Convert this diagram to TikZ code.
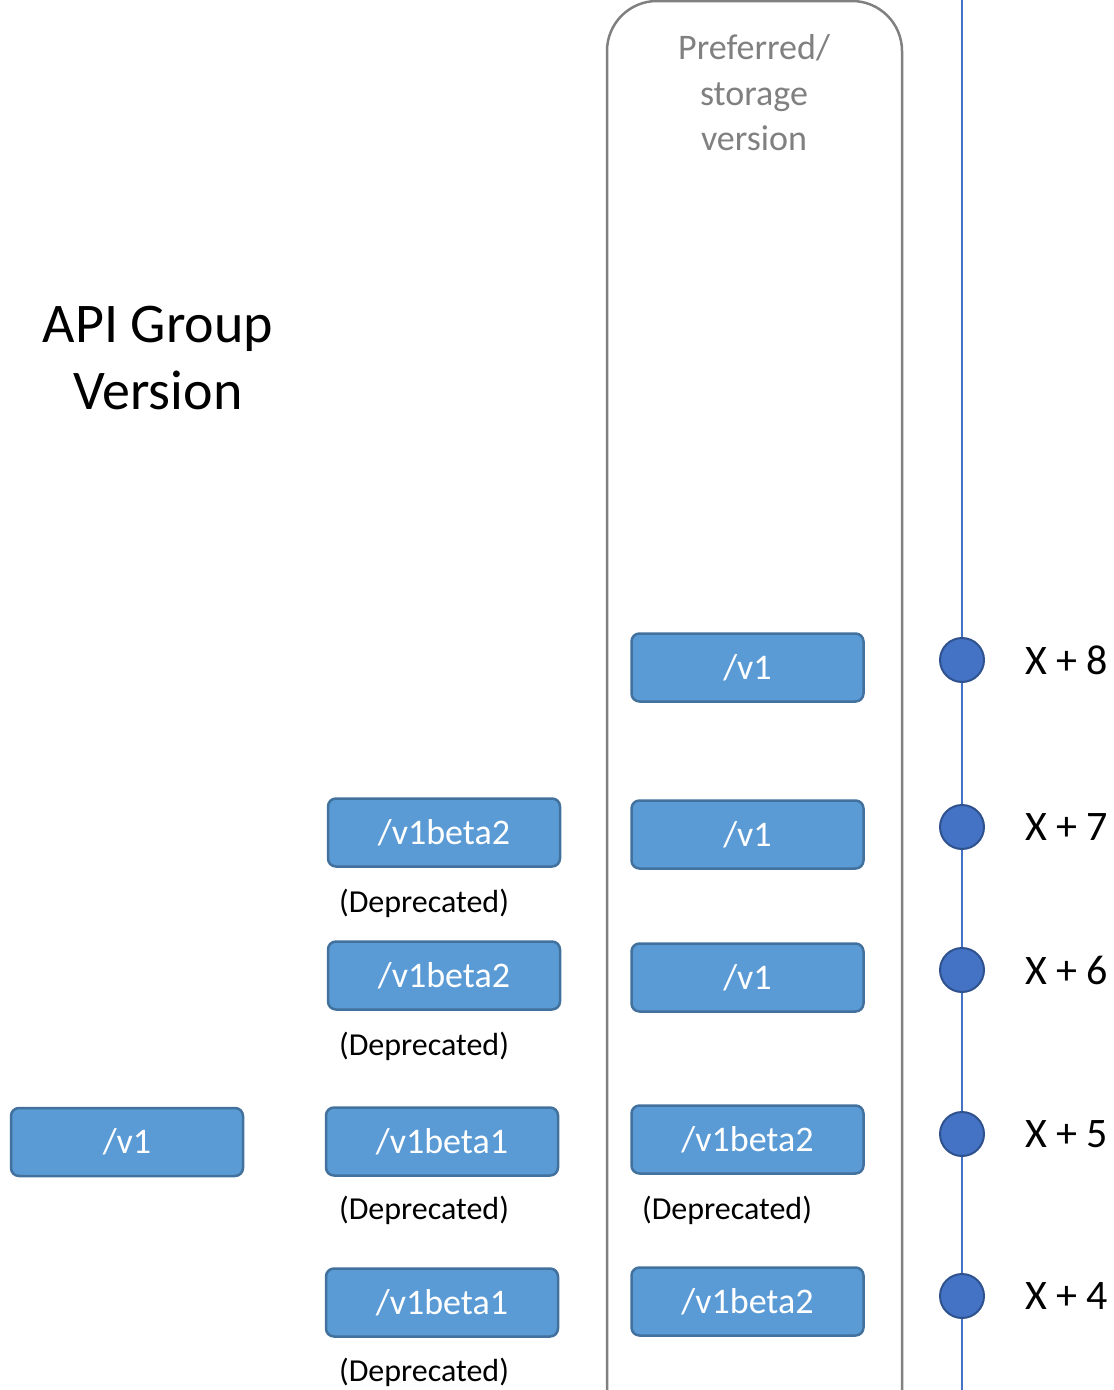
\documentclass[tikz,border=0pt]{standalone}
\usepackage{fontspec}
\setmainfont{Carlito}
\definecolor{boxfill}{HTML}{5B9BD5}
\definecolor{boxedge}{HTML}{41719C}
\definecolor{dotfill}{HTML}{4472C4}
\definecolor{dotedge}{HTML}{2F528F}
\definecolor{framegray}{HTML}{808080}
\begin{document}
\begin{tikzpicture}[x=1pt,y=-1pt,
  verbox/.style={draw=boxedge,fill=boxfill,line width=2.5pt,rounded corners=8pt,
    minimum width=232pt,minimum height=68pt,inner sep=0pt,text=white,
    font=\fontsize{36}{40}\selectfont},
  deptext/.style={font=\fontsize{32}{36}\selectfont,inner sep=0pt},
  tick/.style={circle,draw=dotedge,fill=dotfill,line width=2pt,minimum size=44pt,inner sep=0pt},
  ticklabel/.style={anchor=west,inner sep=0pt,font=\fontsize{42}{46}\selectfont},
  timeline/.style={draw=dotfill,line width=1.5pt}]
\useasboundingbox (0,0) rectangle (1114,1390);

% storage-version frame, open at the bottom
\draw[framegray,line width=2.5pt,rounded corners=50pt]
  (607,1392) -- (607,1) -- (902,1) -- (902,1392);
\node[align=center,text=framegray,font=\fontsize{36}{45.5}\selectfont] (frametitle)
  at (754,93) {Preferred/\\storage\\version};

% heading
\node[align=center,font=\fontsize{56}{67}\selectfont] (heading)
  at (158,358) {API Group\\Version};

% timeline
\coordinate (ttop) at (962,-2);
\coordinate (tbot) at (962,1392);
\draw[timeline] (ttop) -- (tbot);
\foreach \y/\n in {660/8,827/7,970/6,1134/5,1296/4}{
  \node[tick] (t\n) at (962,\y) {};
  \node[ticklabel] (l\n) at (1025,\y) {X + \n};
}

% preferred versions
\node[verbox] (p8) at (747.5,667.5) {/v1};
\node[verbox] (p7) at (747.5,834.5) {/v1};
\node[verbox] (p6) at (747.5,977.5) {/v1};
\node[verbox] (p5) at (747.5,1139.5) {/v1beta2};
\node[verbox] (p4) at (747.5,1301.5) {/v1beta2};
\node[deptext] (d5r) at (727,1210) {(Deprecated)};

% other served versions
\node[verbox] (s7) at (444,832.5) {/v1beta2};
\node[verbox] (s6) at (444,975.5) {/v1beta2};
\node[verbox] (s5) at (442,1141.5) {/v1beta1};
\node[verbox] (s4) at (442,1302.5) {/v1beta1};
\node[deptext] (d7) at (424,903) {(Deprecated)};
\node[deptext] (d6) at (424,1046) {(Deprecated)};
\node[deptext] (d5) at (424,1210) {(Deprecated)};
\node[deptext] (d4) at (424,1372) {(Deprecated)};

\node[verbox] (a5) at (127,1142) {/v1};
\end{tikzpicture}
\end{document}
